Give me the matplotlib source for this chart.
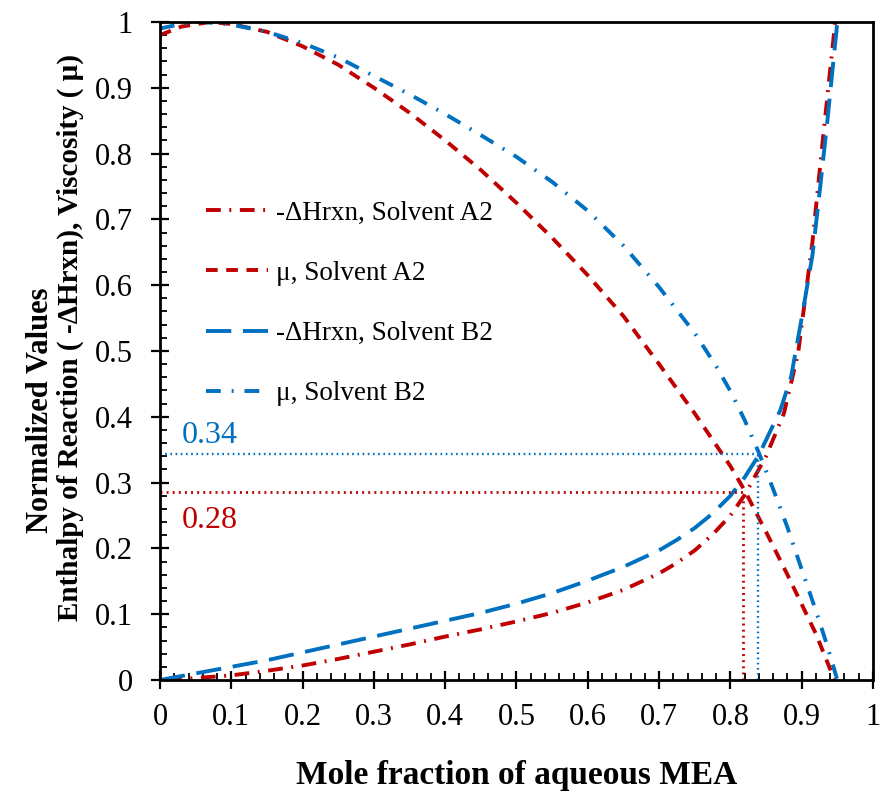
import matplotlib
matplotlib.use("Agg")
import matplotlib.pyplot as plt
from matplotlib.ticker import MultipleLocator, FuncFormatter

plt.rcParams['font.family'] = ['Liberation Serif', 'DejaVu Serif']

RED = '#C00000'
BLUE = '#0070C0'

# -dHrxn, Solvent A2
x_h_a2 = [0.01, 0.05, 0.1, 0.15, 0.2, 0.25, 0.3, 0.35, 0.4, 0.45, 0.5, 0.55, 0.6, 0.65, 0.7, 0.725, 0.75, 0.775, 0.8, 0.82, 0.85, 0.875, 0.895, 0.915, 0.93, 0.947]
y_h_a2 = [0.0, 0.003, 0.007, 0.014, 0.022, 0.032, 0.043, 0.054, 0.066, 0.077, 0.089, 0.102, 0.118, 0.137, 0.162, 0.178, 0.197, 0.221, 0.25, 0.281, 0.34, 0.405, 0.497, 0.665, 0.825, 1.0]

# mu, Solvent A2
x_mu_a2 = [0, 0.03, 0.07, 0.1, 0.15, 0.2, 0.25, 0.3, 0.35, 0.4, 0.45, 0.5, 0.55, 0.6, 0.65, 0.7, 0.75, 0.8, 0.82, 0.85, 0.88, 0.9, 0.92, 0.946]
y_mu_a2 = [0.98, 0.993, 1.0, 0.997, 0.985, 0.963, 0.935, 0.90, 0.862, 0.82, 0.775, 0.725, 0.672, 0.615, 0.553, 0.48, 0.405, 0.325, 0.288, 0.225, 0.16, 0.115, 0.07, 0.0]

# -dHrxn, Solvent B2
x_h_b2 = [0, 0.05, 0.1, 0.15, 0.2, 0.25, 0.3, 0.35, 0.4, 0.45, 0.5, 0.55, 0.6, 0.65, 0.7, 0.725, 0.75, 0.775, 0.8, 0.82, 0.84, 0.87, 0.885, 0.9, 0.915, 0.926, 0.936, 0.95]
y_h_b2 = [0.0, 0.01, 0.02, 0.03, 0.042, 0.054, 0.066, 0.078, 0.09, 0.102, 0.116, 0.132, 0.151, 0.172, 0.197, 0.213, 0.231, 0.253, 0.28, 0.308, 0.342, 0.41, 0.46, 0.55, 0.645, 0.75, 0.85, 1.0]

# mu, Solvent B2
x_mu_b2 = [0, 0.03, 0.06, 0.1, 0.15, 0.2, 0.25, 0.3, 0.35, 0.4, 0.45, 0.5, 0.55, 0.6, 0.65, 0.7, 0.75, 0.78, 0.8, 0.82, 0.84, 0.86, 0.88, 0.9, 0.92, 0.935, 0.95]
y_mu_b2 = [0.99, 0.997, 1.0, 0.996, 0.985, 0.968, 0.946, 0.918, 0.89, 0.86, 0.828, 0.795, 0.757, 0.713, 0.66, 0.597, 0.527, 0.477, 0.439, 0.395, 0.345, 0.29, 0.232, 0.168, 0.105, 0.055, 0.0]

# intersection markers
x_cross_a2, y_cross_a2 = 0.818, 0.285
x_cross_b2, y_cross_b2 = 0.839, 0.343
label_a2 = "0.28"
label_b2 = "0.34"

fig = plt.figure(figsize=(8.82, 7.93), dpi=100)
ax = fig.add_axes([0.1814, 0.1425, 0.8084, 0.8298])

lw = 2.8
ax.plot(x_h_a2, y_h_a2, color=RED, lw=lw, dashes=(3.8, 2.2, 0.5, 2.2), label='-ΔHrxn, Solvent A2')
ax.plot(x_mu_a2, y_mu_a2, color=RED, lw=lw, dashes=(3.0, 2.2), label='μ, Solvent A2')
ax.plot(x_h_b2, y_h_b2, color=BLUE, lw=lw, dashes=(6.5, 3.0), label='-ΔHrxn, Solvent B2')
ax.plot(x_mu_b2, y_mu_b2, color=BLUE, lw=lw, dashes=(3.8, 2.8, 0.5, 2.8), label='μ, Solvent B2')

dot = (0, (0.7, 1.5))
ax.plot([0, x_cross_a2], [y_cross_a2, y_cross_a2], color=RED, lw=2.0, ls=dot)
ax.plot([x_cross_a2, x_cross_a2], [0, y_cross_a2], color=RED, lw=2.0, ls=dot)
ax.plot([0, x_cross_b2], [y_cross_b2, y_cross_b2], color=BLUE, lw=1.7, ls=dot)
ax.plot([x_cross_b2, x_cross_b2], [0, y_cross_b2], color=BLUE, lw=1.7, ls=dot)

ax.text(0.03, 0.372, label_b2, color=BLUE, fontsize=23, ha='left', va='center')
ax.text(0.03, 0.243, label_a2, color=RED, fontsize=23, ha='left', va='center')

ax.set_xlim(0, 1)
ax.set_ylim(0, 1)
fmt = FuncFormatter(lambda v, p: '0' if abs(v) < 1e-9 else ('1' if abs(v - 1) < 1e-9 else f'{v:.1f}'))
ax.xaxis.set_major_locator(MultipleLocator(0.1))
ax.yaxis.set_major_locator(MultipleLocator(0.1))
ax.xaxis.set_minor_locator(MultipleLocator(0.02))
ax.yaxis.set_minor_locator(MultipleLocator(0.02))
ax.xaxis.set_major_formatter(fmt)
ax.yaxis.set_major_formatter(fmt)
ax.tick_params(which='major', direction='inout', length=13, width=1.6, labelsize=22)
ax.tick_params(which='minor', direction='in', length=5, width=1.3)
ax.tick_params(axis='x', which='major', pad=10)
ax.tick_params(axis='y', which='major', pad=13)
for s in ax.spines.values():
    s.set_linewidth(2.0)

ax.set_xlabel('Mole fraction of aqueous MEA', fontsize=24, fontweight='bold', labelpad=20)
fig.text(0.046, 0.483, 'Normalized Values', rotation=90, fontsize=22, fontweight='bold',
         ha='center', va='center')
fig.text(0.080, 0.574, 'Enthalpy of Reaction ( -ΔHrxn), Viscosity ( μ)', rotation=90, fontsize=21,
         fontweight='bold', ha='center', va='center')

leg = ax.legend(loc='upper left', bbox_to_anchor=(0.045, 0.749), frameon=False, fontsize=19.5,
                handlelength=2.3, labelspacing=1.3, handletextpad=0.3, borderpad=0)

fig.savefig('out.png', dpi=100)
